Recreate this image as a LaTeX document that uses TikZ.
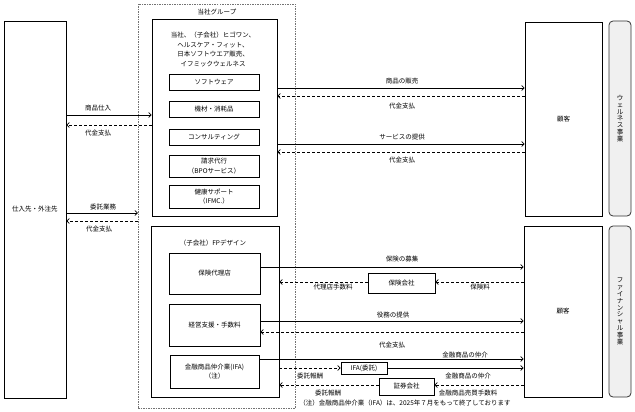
\documentclass[tikz,border=0pt]{standalone}
\usepackage{fontspec}
\newfontfamily\jpfont{Noto Sans CJK JP}
\usetikzlibrary{arrows.meta}
\tikzset{>={Straight Barb[length=2.5pt,width=5pt]}}
\tikzset{
  box/.style={draw, line width=0.8pt, inner sep=1pt, align=center},
  sidebox/.style={draw=black!80, line width=0.8pt, rounded corners=4pt, fill=black!6, inner sep=0pt, align=center, font=\jpfont\fontsize{6.5}{6.8}\selectfont},
  flow/.style={->, line width=0.7pt},
  back/.style={->, line width=0.7pt, dash pattern=on 3pt off 2pt},
  lbl/.style={inner sep=0pt, align=center}
}

\begin{document}
\begin{tikzpicture}[x=1pt, y=-1pt, font=\jpfont\fontsize{6.5}{9.5}\selectfont]
\useasboundingbox (0,0) rectangle (635,412);

% group frame and suppliers
\node[draw=black!55, dash pattern=on 1.5pt off 1pt, line width=0.5pt, minimum width=157pt, minimum height=404pt] (grp) at (216.5,206) {};
\node[lbl] (grplbl) at (217,12) {当社グループ};
\node[box, minimum width=62pt, minimum height=377pt] (supp) at (35,209.5) {仕入先・外注先};

% wellness
\node[box, minimum width=125pt, minimum height=197pt] (wbox) at (214.5,117.5) {};
\node[lbl] (wlbl) at (213,49.5) {当社、（子会社）ヒゴワン、\\ヘルスケア・フィット、\\日本ソフトウエア販売、\\イフミックウェルネス};
\node[box, minimum width=90pt, minimum height=16pt] (soft) at (214,82) {ソフトウェア};
\node[box, minimum width=90pt, minimum height=16pt] (kizai) at (214,109) {機材・消耗品};
\node[box, minimum width=90pt, minimum height=16pt] (consul) at (214,137) {コンサルティング};
\node[box, minimum width=90pt, minimum height=22pt] (bpo) at (214,166) {請求代行\\（BPOサービス）};
\node[box, minimum width=90pt, minimum height=23pt] (ifmc) at (214,196.5) {健康サポート\\（IFMC.）};

% financial
\node[box, minimum width=128pt, minimum height=171pt] (fpbox) at (215,311.5) {};
\node[lbl] (fplbl) at (213,243) {（子会社）FPデザイン};
\node[box, minimum width=91pt, minimum height=41pt] (agency) at (214.5,273.5) {保険代理店};
\node[box, minimum width=91pt, minimum height=42pt] (mgmt) at (214.5,325) {経営支援・手数料};
\node[box, minimum width=89pt, minimum height=33pt] (ifa) at (214.5,371.5) {金融商品仲介業(IFA)\\（注）};
\node[box, minimum width=67pt, minimum height=20pt] (inscomp) at (401.5,283) {保険会社};
\node[box, minimum width=46pt, minimum height=12pt, inner sep=0pt] (ifac) at (364,368) {IFA(委託)};
\node[box, minimum width=55pt, minimum height=17pt] (sec) at (406.5,386.5) {証券会社};

% customers
\node[box, minimum width=77pt, minimum height=194pt] (wcust) at (563.5,119) {顧客};
\node[box, minimum width=78pt, minimum height=171pt] (fcust) at (563,311.5) {顧客};
\node[sidebox, minimum width=22pt, minimum height=195pt] (wside) at (620,118.5) {ウ\\ェ\\ル\\ネ\\ス\\事\\業};
\node[sidebox, minimum width=22pt, minimum height=171pt] (fside) at (620,311.5) {フ\\ァ\\イ\\ナ\\ン\\シ\\ャ\\ル\\事\\業};

% suppliers <-> group
\draw[flow] (supp.east |- 0,115) -- (wbox.west |- 0,115);
\draw[back] (wbox.west |- 0,125) -- (supp.east |- 0,125);
\draw[flow] (supp.east |- 0,213) -- (grp.west |- 0,213);
\draw[back] (grp.west |- 0,221) -- (supp.east |- 0,221);
\node[lbl] at (98,108) {商品仕入};
\node[lbl] at (98,133) {代金支払};
\node[lbl] at (103,207) {委託業務};
\node[lbl] at (99,229) {代金支払};

% wellness <-> customers
\draw[flow] (wbox.east |- 0,88) -- (wcust.west |- 0,88);
\draw[back] (wcust.west |- 0,96) -- (wbox.east |- 0,96);
\draw[flow] (wbox.east |- 0,144) -- (wcust.west |- 0,144);
\draw[back] (wcust.west |- 0,152) -- (wbox.east |- 0,152);
\node[lbl] at (402,81) {商品の販売};
\node[lbl] at (402,106) {代金支払};
\node[lbl] at (402,137) {サービスの提供};
\node[lbl] at (402,160) {代金支払};

% financial <-> customers
\draw[flow] (agency.east |- 0,267) -- (fcust.west |- 0,267);
\draw[back] (fcust.west |- 0,282) -- (inscomp.east |- 0,282);
\draw[back] (inscomp.west |- 0,282) -- (fpbox.east |- 0,282);
\node[lbl] at (402,259) {保険の募集};
\node[lbl] at (480,287) {保険料};
\node[lbl] at (333,287) {代理店手数料};

\draw[flow] (mgmt.east |- 0,321) -- (fcust.west |- 0,321);
\draw[back] (fcust.west |- 0,332) -- (mgmt.east |- 0,332);
\node[lbl] at (393,315) {役務の提供};
\node[lbl] at (392,345) {代金支払};

\draw[flow] (ifa.east |- 0,359) -- (fcust.west |- 0,359);
\draw[back] (fpbox.east |- 0,368) -- (ifac.west);
\draw[flow] (ifac.east) -- (fcust.west |- ifac.east);
\draw[back] (fcust.west |- 0,385) -- (sec.east |- 0,385);
\draw[back] (sec.west |- 0,385) -- (fpbox.east |- 0,385);
\node[lbl] at (465,355) {金融商品の仲介};
\node[lbl] at (310,376) {委託報酬};
\node[lbl] at (468,376) {金融商品の仲介};
\node[lbl] at (468,393) {金融商品売買手数料};
\node[lbl] at (328,393) {委託報酬};

\node[lbl] (note) at (405,403) {（注）金融商品仲介業（IFA）は、2025年７月をもって終了しております};
\end{tikzpicture}
\end{document}
